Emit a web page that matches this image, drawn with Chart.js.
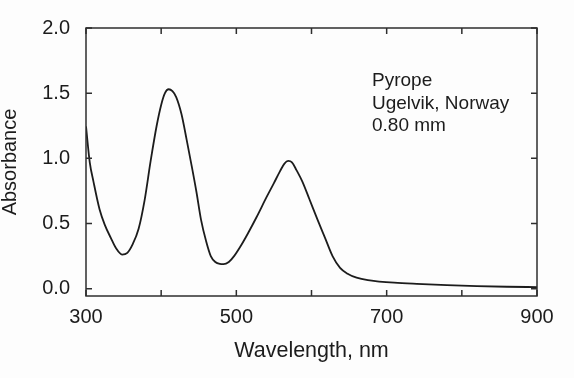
<!DOCTYPE html>
<html>
<head>
<meta charset="utf-8">
<script src="https://cdn.jsdelivr.net/npm/chart.js@4"></script>
<style>
  html, body { margin: 0; padding: 0; background: #fdfdfd; }
  #wrap { width: 574px; height: 378px; position: relative; }
</style>
</head>
<body>
<div id="wrap"><canvas id="spectrum"></canvas></div>
<script>
// Pyrope absorption spectrum
const wavelength = [300, 305, 310, 318, 325, 333, 340, 348, 355, 362, 370, 378, 386, 394, 400, 405,
  410, 415, 420, 427, 434, 440, 447, 453, 460, 466, 472, 478, 483, 490, 497, 505, 515, 527, 540,
  550, 558, 564, 569, 574, 580, 588, 597, 608, 618, 628, 638, 648, 660, 675, 690, 710, 740, 780,
  820, 860, 900];
const absorbance = [1.245, 0.97, 0.82, 0.61, 0.49, 0.39, 0.31, 0.262, 0.275, 0.34, 0.46, 0.68, 0.98,
  1.25, 1.41, 1.50, 1.53, 1.515, 1.47, 1.34, 1.14, 0.96, 0.74, 0.53, 0.36, 0.25, 0.205, 0.19, 0.188,
  0.205, 0.25, 0.32, 0.42, 0.55, 0.70, 0.81, 0.90, 0.96, 0.98, 0.97, 0.91, 0.82, 0.69, 0.53, 0.39,
  0.25, 0.16, 0.115, 0.085, 0.065, 0.055, 0.046, 0.037, 0.027, 0.02, 0.015, 0.012];

const xTicks = [300, 400, 500, 600, 700, 800, 900];
const xLabeled = [300, 500, 700, 900];
const yTicks = [0, 0.5, 1.0, 1.5, 2.0];
const noteLines = ['Pyrope', 'Ugelvik, Norway', '0.80 mm'];

const INK = '#1c1c1c';
const FONT = '"Liberation Sans", Arial, sans-serif';

// box around the plot with short inward tick marks on all four sides
const framePlugin = {
  id: 'frame',
  afterDraw(chart) {
    const { ctx, chartArea: a, scales: { x, y } } = chart;
    const len = 6;
    ctx.save();
    ctx.strokeStyle = '#2e2e2e';
    ctx.lineWidth = 1.5;
    ctx.strokeRect(a.left, a.top, a.right - a.left, a.bottom - a.top);
    ctx.beginPath();
    xTicks.forEach(v => {
      const px = x.getPixelForValue(v);
      ctx.moveTo(px, a.bottom); ctx.lineTo(px, a.bottom - len);
      ctx.moveTo(px, a.top); ctx.lineTo(px, a.top + len);
    });
    yTicks.forEach(v => {
      const py = y.getPixelForValue(v);
      ctx.moveTo(a.left, py); ctx.lineTo(a.left + len, py);
      ctx.moveTo(a.right, py); ctx.lineTo(a.right - len, py);
    });
    ctx.stroke();

    // sample note
    ctx.fillStyle = INK;
    ctx.font = '19px ' + FONT;
    ctx.textBaseline = 'alphabetic';
    ctx.textAlign = 'left';
    noteLines.forEach((t, i) => ctx.fillText(t, 372, 86 + i * 22.5));
    ctx.restore();
  }
};

new Chart(document.getElementById('spectrum'), {
  type: 'line',
  data: {
    datasets: [{
      data: wavelength.map((w, i) => ({ x: w, y: absorbance[i] })),
      borderColor: INK,
      borderWidth: 1.8,
      pointRadius: 0,
      cubicInterpolationMode: 'monotone',
      fill: false
    }]
  },
  options: {
    responsive: true,
    maintainAspectRatio: false,
    animation: false,
    layout: { padding: { top: 26, right: 37, left: 0, bottom: 0 } },
    plugins: { legend: { display: false }, tooltip: { enabled: false } },
    scales: {
      x: {
        type: 'linear',
        min: 300, max: 900,
        border: { display: false },
        grid: { display: false, drawTicks: false },
        afterBuildTicks: s => { s.ticks = xTicks.map(v => ({ value: v })); },
        afterFit: s => { s.height = 82; },
        ticks: {
          padding: 9,
          color: INK,
          font: { family: FONT, size: 20 },
          maxRotation: 0,
          autoSkip: false,
          callback: v => xLabeled.includes(v) ? String(v) : ''
        },
        title: {
          display: true,
          text: 'Wavelength, nm',
          color: INK,
          font: { family: FONT, size: 21.5 },
          padding: { top: 0, bottom: 14 }
        }
      },
      y: {
        min: -0.056, max: 2.0,
        border: { display: false },
        grid: { display: false, drawTicks: false },
        afterBuildTicks: s => { s.ticks = yTicks.map(v => ({ value: v })); },
        afterFit: s => { s.width = 86; },
        ticks: {
          padding: 16,
          color: INK,
          font: { family: FONT, size: 20 },
          callback: v => v.toFixed(1)
        },
        title: {
          display: true,
          text: 'Absorbance',
          color: INK,
          font: { family: FONT, size: 20, lineHeight: 1.0 },
          padding: { top: 0, bottom: 0 }
        }
      }
    }
  },
  plugins: [framePlugin]
});
</script>
</body>
</html>
